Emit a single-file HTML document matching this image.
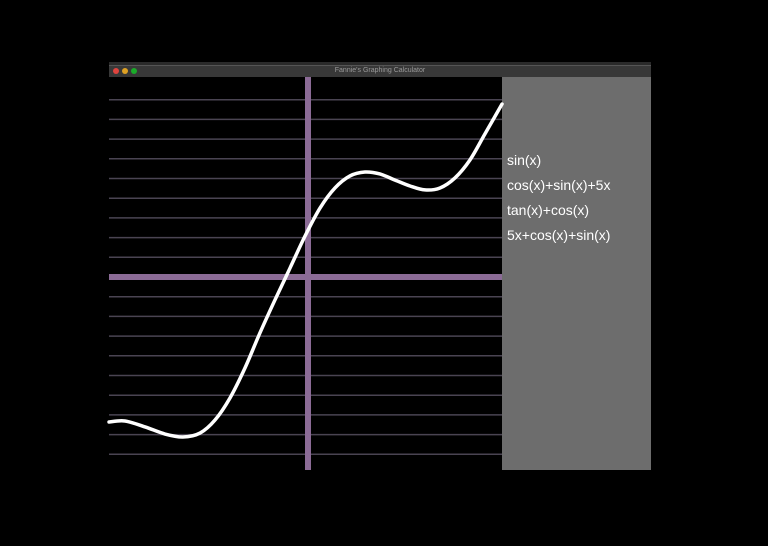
<!DOCTYPE html>
<html><head><meta charset="utf-8"><style>
body{margin:0;width:768px;height:546px;background:#000;overflow:hidden;font-family:"Liberation Sans",sans-serif;position:relative}
.abs{position:absolute}
.fn{position:absolute;left:507px;color:#fff;font-size:14px;line-height:16px}
</style></head><body>
<div class="abs" style="left:109px;top:62px;width:542px;height:3px;background:#2a2a2a"></div>
<div class="abs" style="left:109px;top:65px;width:542px;height:12px;background:#383838;border-top:1px solid #555;box-sizing:border-box"></div>
<div class="abs" style="left:113px;top:68px;width:6px;height:6px;border-radius:50%;background:#e0443e"></div>
<div class="abs" style="left:122px;top:68px;width:6px;height:6px;border-radius:50%;background:#dea123"></div>
<div class="abs" style="left:131px;top:68px;width:6px;height:6px;border-radius:50%;background:#1aab29"></div>
<div class="abs" style="left:109px;top:66px;width:542px;text-align:center;font-size:7px;color:#999;line-height:10px">Fannie's Graphing Calculator</div>
<div class="abs" style="left:502px;top:77px;width:149px;height:393px;background:#6d6d6d"></div>
<div class="fn" style="top:152px">sin(x)</div>
<div class="fn" style="top:177px">cos(x)+sin(x)+5x</div>
<div class="fn" style="top:202px">tan(x)+cos(x)</div>
<div class="fn" style="top:227px">5x+cos(x)+sin(x)</div>
<svg class="abs" style="left:0;top:0" width="768" height="546">
<g id="grid"></g><g id="axes"></g><path id="curve" fill="none" stroke="#fff" stroke-width="3.5" stroke-linecap="round"/>
</svg>
<script>
const xs=[-10.1,-9.29,-8.27,-7.26,-6.35,-5.48,-4.72,-3.96,-3.2,-2.44,-1.68,-0.91,-0.15,0.61,1.37,2.13,2.89,3.65,4.42,5.18,5.94,6.7,7.46,8.22,8.98,9.85];
const ys=[-7.36,-7.31,-7.61,-7.97,-8.12,-7.92,-7.26,-6.14,-4.62,-2.84,-1.17,0.46,2.08,3.5,4.52,5.13,5.33,5.23,4.92,4.62,4.42,4.52,5.03,5.94,7.26,8.78];
const gridYs=[-9,-8,-7,-6,-5,-4,-3,-2,-1,1,2,3,4,5,6,7,8,9];
const U=19.7,OX=308,OY=277,L=109,R=502,T=77,B=470;
const sx=v=>OX+v*U, sy=v=>OY-v*U;
const NS='http://www.w3.org/2000/svg';
const grid=document.getElementById('grid');
gridYs.forEach(g=>{const l=document.createElementNS(NS,'line');
l.setAttribute('x1',L);l.setAttribute('x2',R);l.setAttribute('y1',sy(g));l.setAttribute('y2',sy(g));
l.setAttribute('stroke','#4a4452');l.setAttribute('stroke-width','1.5');


grid.appendChild(l);});
const ax=document.getElementById('axes');
const h=document.createElementNS(NS,'rect');h.setAttribute('x',L);h.setAttribute('y',OY-3);h.setAttribute('width',R-L);h.setAttribute('height',6);h.setAttribute('fill','#8b6b96');


ax.appendChild(h);
const v=document.createElementNS(NS,'rect');v.setAttribute('x',OX-3);v.setAttribute('y',T);v.setAttribute('width',6);v.setAttribute('height',B-T);v.setAttribute('fill','#8b6b96');


ax.appendChild(v);
const P=xs.map((x,i)=>[sx(x),sy(ys[i])]);
let d='M'+P[0][0]+','+P[0][1];
for(let i=0;i<P.length-1;i++){const p0=P[i-1]||P[i],p1=P[i],p2=P[i+1],p3=P[i+2]||p2;
d+=` C${p1[0]+(p2[0]-p0[0])/6},${p1[1]+(p2[1]-p0[1])/6} ${p2[0]-(p3[0]-p1[0])/6},${p2[1]-(p3[1]-p1[1])/6} ${p2[0]},${p2[1]}`;}
const c=document.getElementById('curve');c.setAttribute('d',d);


</script>
</body></html>
